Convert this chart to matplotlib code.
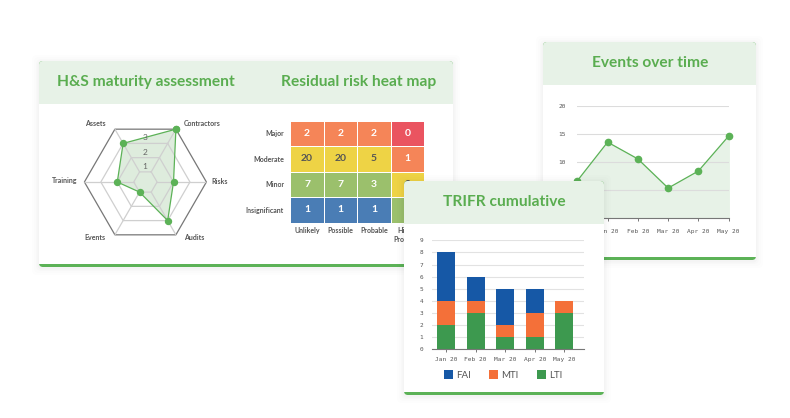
import numpy as np
import matplotlib
matplotlib.use('Agg')
import matplotlib.pyplot as plt
from matplotlib.colors import ListedColormap
from matplotlib.patches import FancyBboxPatch, Rectangle
from matplotlib.ticker import FixedLocator

# radar
radar_labels = ['Contractors', 'Risks', 'Audits', 'Events', 'Training', 'Assets']
radar_values = [3, 1, 2, 0, 1, 2]
radar_rings = [0, 1, 2, 3]

# heat map
heat_rows = ['Major', 'Moderate', 'Minor', 'Insignificant']
heat_cols = ['Unlikely', 'Possible', 'Probable', 'Highly\nProbable']
heat_values = [[2, 2, 2, 0], [20, 20, 5, 1], [7, 7, 3, 2], [1, 1, 1, 3]]
heat_levels = [[2, 2, 2, 3], [1, 1, 1, 2], [0, 0, 0, 1], [4, 4, 4, 0]]

# events
event_months = ['Dec 19', 'Jan 20', 'Feb 20', 'Mar 20', 'Apr 20', 'May 20']
event_values = [6.7, 13.6, 10.6, 5.4, 8.45, 14.7]
event_ticks = [0, 5, 10, 15, 20]

# trifr bars
trifr_months = ['Jan 20', 'Feb 20', 'Mar 20', 'Apr 20', 'May 20']
lti = [2, 3, 1, 1, 3]
mti = [2, 1, 1, 2, 1]
fai = [4, 2, 3, 2, 0]

W, H = 790, 418
GREEN = '#5cb257'
HEADER = '#e7f2e7'
TITLE = '#5aad50'
GREY_TXT = '#555555'
TITLE_FONT = 'Lato'
MONO = 'DejaVu Sans Mono'
TITLE_SIZE = 11.2

fig = plt.figure(figsize=(W / 100, H / 100), dpi=100, facecolor='white')


def px_axes(x0, y0, x1, y1, **kw):
    return fig.add_axes([x0 / W, 1 - y1 / H, (x1 - x0) / W, (y1 - y0) / H], **kw)


def draw_card(ax, x0, y0, x1, y1, head_y, strip_y):
    # soft shadow first
    for grow, a in [(7, 0.006), (5, 0.008), (3, 0.012), (1.5, 0.015)]:
        ax.add_patch(FancyBboxPatch((x0 - grow, y0 - grow + 1), x1 - x0 + 2 * grow, y1 - y0 + 2 * grow,
                                    boxstyle='round,pad=0,rounding_size=5', fc='black', ec='none', alpha=a))
    ax.add_patch(FancyBboxPatch((x0, y0), x1 - x0, y1 - y0, boxstyle='round,pad=0,rounding_size=4',
                                fc=GREEN, ec='none'))
    ax.add_patch(Rectangle((x0, head_y), x1 - x0, strip_y - head_y, fc='white', ec='none'))
    ax.add_patch(FancyBboxPatch((x0, y0), x1 - x0, head_y - y0, boxstyle='round,pad=0,rounding_size=4',
                                fc=HEADER, ec='none'))
    ax.add_patch(Rectangle((x0, head_y - 6), x1 - x0, 6, fc=HEADER, ec='none'))


def pixel_layer(zorder):
    ax = px_axes(0, 0, W, H, zorder=zorder)
    ax.set_xlim(0, W)
    ax.set_ylim(H, 0)
    ax.axis('off')
    ax.patch.set_alpha(0)
    return ax


bg = pixel_layer(0)
draw_card(bg, 39, 61, 453, 267, 104, 264)
draw_card(bg, 543, 42, 756, 260, 85, 257)
bg.text(146, 82, 'H&S maturity assessment', color=TITLE, fontsize=TITLE_SIZE, fontweight='bold',
        family=TITLE_FONT, ha='center', va='center')
bg.text(358.5, 82, 'Residual risk heat map', color=TITLE, fontsize=TITLE_SIZE, fontweight='bold',
        family=TITLE_FONT, ha='center', va='center')
bg.text(650, 63, 'Events over time', color=TITLE, fontsize=TITLE_SIZE, fontweight='bold',
        family=TITLE_FONT, ha='center', va='center')

# radar
cx, cy, R = 145.4, 182, 61
rad = px_axes(cx - R, cy - R, cx + R, cy + R, projection='polar', zorder=1)
rad.set_ylim(-0.71, 3)
rad.axis('off')
angles = np.deg2rad([60, 0, -60, -120, 180, 120])
closed = np.append(angles, angles[0])
for r in radar_rings:
    outer = r == radar_rings[-1]
    rad.plot(closed, [r] * 7, color='#777777' if outer else '#cfcfcf', lw=0.9, clip_on=False)
for a in angles:
    rad.plot([a, a], [radar_rings[0], radar_rings[-1]], color='#cfcfcf', lw=0.9)
vals = radar_values + radar_values[:1]
rad.fill(closed, vals, color='#3f8f3a', alpha=0.17, lw=0)
rad.plot(closed, vals, color=GREEN, lw=0.9, marker='o', ms=4.3, clip_on=False)

lab = pixel_layer(1)
radar_pos = [(202, 124), (220, 181), (194, 237), (95, 237), (65, 181), (95, 124)]
for name, (x, y) in zip(radar_labels, radar_pos):
    lab.text(x, y, name, fontsize=5, fontweight='bold', color=GREY_TXT, family=TITLE_FONT, ha='center', va='center')
for i, y in enumerate([166.5, 152.5, 137.5]):
    lab.text(145, y, str(i + 1), fontsize=6, color='#666666', family=TITLE_FONT, ha='center', va='center')

# heat map
heat = px_axes(290.3, 120.7, 424.3, 222.5, zorder=1)
cmap = ListedColormap(['#9bc06c', '#eed345', '#f58558', '#ea5460', '#4a7db5'])
heat.pcolormesh(np.array(heat_levels), cmap=cmap, vmin=0, vmax=4, edgecolors='white', linewidth=0.4)
heat.invert_yaxis()
for i, row in enumerate(heat_values):
    for j, v in enumerate(row):
        heat.text(j + 0.5, i + 0.5, str(v), ha='center', va='center', fontsize=7.5, fontweight='bold',
                  family=TITLE_FONT, color='#555555' if heat_levels[i][j] == 1 else 'white')
heat.set_xticks(np.arange(4) + 0.5, heat_cols, fontsize=5, fontweight='bold', family=TITLE_FONT,
                color=GREY_TXT, linespacing=1.3, va='top')
heat.set_yticks(np.arange(4) + 0.5, heat_rows, fontsize=5, fontweight='bold', family=TITLE_FONT, color=GREY_TXT)
heat.tick_params(length=0, pad=4.5)
heat.tick_params(axis='x', pad=3.5)
for s in heat.spines.values():
    s.set_visible(False)

# events
ev = px_axes(577.3, 106.3, 728.7, 218.3, zorder=1)
x = np.arange(len(event_values))
ev.fill_between(x, event_values, color=HEADER, zorder=1)
ev.plot(x, event_values, color=GREEN, lw=0.9, marker='o', ms=4.5, zorder=3, clip_on=False)
ev.set_xlim(x[0], x[-1])
ev.set_ylim(0, 20)
ev.set_yticks(event_ticks)
ev.set_xticks(x, event_months)
ev.grid(axis='y', color='#dcdcdc', lw=0.8, zorder=2)
ev.set_axisbelow(False)
ev.tick_params(axis='y', length=0, labelsize=4.4, labelcolor=GREY_TXT, pad=8)
ev.tick_params(axis='x', length=2.5, width=0.7, color='#777777', labelsize=4.4, labelcolor=GREY_TXT, pad=5)
for t in ev.get_xticklabels() + ev.get_yticklabels():
    t.set_family(MONO)
for s in ['top', 'left', 'right']:
    ev.spines[s].set_visible(False)
ev.spines['bottom'].set_color('#777777')
ev.spines['bottom'].set_linewidth(0.8)
ev.patch.set_alpha(0)

# trifr card goes over the other two
top = pixel_layer(2)
draw_card(top, 404, 181, 604, 395, 224, 392)
top.text(504, 202, 'TRIFR cumulative', color=TITLE, fontsize=TITLE_SIZE, fontweight='bold',
         family=TITLE_FONT, ha='center', va='center')

bar = px_axes(431.7, 240.3, 584, 349.3, zorder=3)
pos = np.arange(len(trifr_months))
b1 = bar.bar(pos, lti, width=0.61, color='#3d994f', zorder=2)
b2 = bar.bar(pos, mti, width=0.61, bottom=lti, color='#f47039', zorder=2)
b3 = bar.bar(pos, fai, width=0.61, bottom=np.add(lti, mti), color='#1658a6', zorder=2)
bar.set_xlim(-0.485, 4.66)
bar.set_ylim(0, 9)
bar.yaxis.set_major_locator(FixedLocator(range(10)))
bar.set_xticks(pos, trifr_months)
bar.grid(axis='y', color='#e2e2e2', lw=0.8, zorder=1)
bar.set_axisbelow(True)
bar.tick_params(axis='y', length=0, labelsize=4.4, labelcolor=GREY_TXT, pad=6)
bar.tick_params(axis='x', length=2.5, width=0.7, color='#777777', labelsize=4.4, labelcolor=GREY_TXT, pad=3)
for t in bar.get_xticklabels() + bar.get_yticklabels():
    t.set_family(MONO)
for s in ['top', 'left', 'right']:
    bar.spines[s].set_visible(False)
bar.spines['bottom'].set_color('#777777')
bar.spines['bottom'].set_linewidth(0.8)
bar.patch.set_alpha(0)
bar.legend([b3, b2, b1], ['FAI', 'MTI', 'LTI'], ncol=3, frameon=False, loc='center',
           bbox_to_anchor=(0.468, -0.235), handlelength=0.95, handleheight=0.95, handletextpad=0.3,
           columnspacing=1.9, prop={'family': TITLE_FONT, 'size': 7}, labelcolor=GREY_TXT)

fig.savefig('out.png', dpi=100, facecolor='white')
